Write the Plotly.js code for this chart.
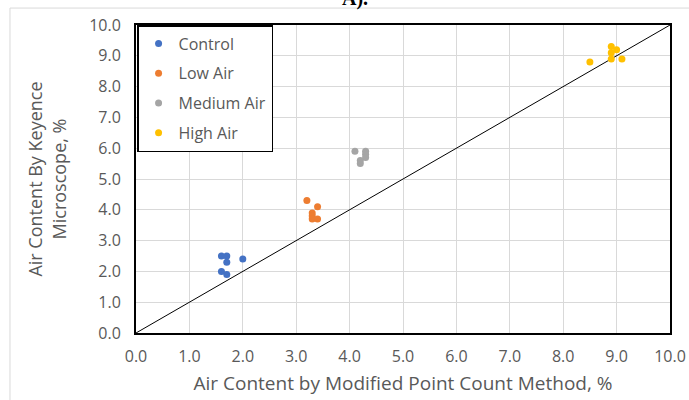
<!DOCTYPE html>
<html>
<head>
<meta charset="utf-8">
<script src="https://cdn.plot.ly/plotly-3.0.1.min.js"></script>
<style>html,body{margin:0;padding:0;background:#fff;}#chart{width:689px;height:400px;}</style>
</head>
<body>
<div id="chart"></div>
<script>
const seriesNames = ["Control", "Low Air", "Medium Air", "High Air"];
const seriesColors = ["#4472C4", "#ED7D31", "#A5A5A5", "#FFC000"];
const controlX = [1.6, 1.7, 1.7, 2.0, 1.6, 1.7];
const controlY = [2.5, 2.5, 2.3, 2.4, 2.0, 1.9];
const lowX = [3.2, 3.4, 3.3, 3.3, 3.3, 3.4];
const lowY = [4.3, 4.1, 3.9, 3.8, 3.7, 3.7];
const mediumX = [4.1, 4.3, 4.3, 4.3, 4.2, 4.2];
const mediumY = [5.9, 5.9, 5.8, 5.7, 5.6, 5.5];
const highX = [8.9, 9.0, 8.9, 8.9, 8.5, 9.1];
const highY = [9.3, 9.2, 9.1, 8.9, 8.8, 8.9];
const lineX = [0, 10];
const lineY = [0, 10];
const tickVals = [0,1,2,3,4,5,6,7,8,9,10];
const tickText = ["0.0","1.0","2.0","3.0","4.0","5.0","6.0","7.0","8.0","9.0","10.0"];

const xs = [controlX, lowX, mediumX, highX];
const ys = [controlY, lowY, mediumY, highY];
const traces = [{
  x: lineX, y: lineY, mode: "lines", type: "scatter",
  line: {color: "#000", width: 1}, showlegend: false, hoverinfo: "skip"
}];
seriesNames.forEach((n, i) => {
  traces.push({
    x: xs[i], y: ys[i], name: n, mode: "markers", type: "scatter",
    legendgroup: "g" + i,
    marker: {color: seriesColors[i], size: 7}
  });
});

const font = "Open Sans, Lato, sans-serif";
const layout = {
  width: 689, height: 400,
  margin: {l: 136, r: 19, t: 25, b: 67},
  paper_bgcolor: "#fff", plot_bgcolor: "#fff",
  font: {family: font, color: "#595959"},
  xaxis: {
    range: [0, 10], tickvals: tickVals, ticktext: tickText,
    showgrid: true, gridcolor: "#d9d9d9", gridwidth: 1,
    zeroline: false, showline: true, linecolor: "#000", linewidth: 2, mirror: true,
    ticks: "", ticklabelstandoff: 8, tickfont: {size: 16, color: "#595959", family: font},
    title: {text: "Air Content by Modified Point Count Method, %", font: {size: 19, color: "#595959", family: font}, standoff: 10}
  },
  yaxis: {
    range: [0, 10], tickvals: tickVals, ticktext: tickText,
    showgrid: true, gridcolor: "#d9d9d9", gridwidth: 1,
    zeroline: false, showline: true, linecolor: "#000", linewidth: 2, mirror: true,
    ticks: "", ticklabelstandoff: 10, tickfont: {size: 16, color: "#595959", family: font},
    title: {text: "Air Content By Keyence<br>Microscope, %", font: {size: 18, color: "#595959", family: font}, standoff: 18}
  },
  legend: {
    x: 0.002, y: 1, xanchor: "left", yanchor: "top",
    bgcolor: "#fff", bordercolor: "#000", borderwidth: 1.5,
    font: {size: 16, color: "#595959", family: font},
    traceorder: "grouped", tracegroupgap: 6, itemwidth: 30
  },
  shapes: [{
    type: "rect", xref: "paper", yref: "paper",
    x0: -0.236, x1: 1.3, y0: -0.5, y1: 1.055,
    line: {color: "#d9d9d9", width: 1}, fillcolor: "rgba(0,0,0,0)", layer: "below"
  }],
  annotations: [{
    xref: "paper", yref: "paper", x: 0.41, y: 1.055, yanchor: "bottom", yshift: -4,
    text: "<b>A).</b>", showarrow: false,
    font: {family: "Liberation Serif, serif", size: 20, color: "#000"}
  }]
};
Plotly.newPlot("chart", traces, layout, {displayModeBar: false, staticPlot: true});
</script>
</body>
</html>
